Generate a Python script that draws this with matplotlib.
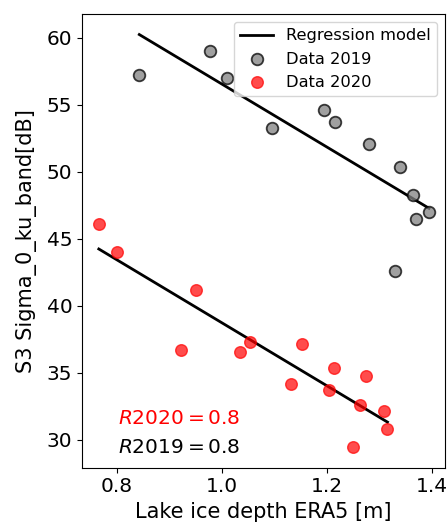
import numpy as np
import matplotlib
matplotlib.use("Agg")
import matplotlib.pyplot as plt

# Данные 2019 года: толщина льда ERA5 [м] и Sigma_0 [дБ]
x_2019 = [0.843, 0.978, 1.010, 1.096, 1.194, 1.215, 1.279, 1.338, 1.363, 1.370, 1.394, 1.329]
y_2019 = [57.2, 59.0, 57.0, 53.3, 54.6, 53.7, 52.1, 50.35, 48.3, 46.5, 47.0, 42.6]

# Данные 2020 года
x_2020 = [0.766, 0.801, 0.951, 0.922, 1.034, 1.053, 1.153, 1.132, 1.213, 1.203,
          1.275, 1.262, 1.309, 1.315, 1.249]
y_2020 = [46.1, 44.0, 41.15, 36.7, 36.55, 37.3, 37.1, 34.15, 35.35, 33.7,
          34.75, 32.55, 32.1, 30.8, 29.45]

# Коэффициенты регрессионной модели (общий наклон, свой сдвиг для каждого года)
slope = -23.55
intercept_2019 = 80.1
intercept_2020 = 62.27
r2_2019 = 0.8
r2_2020 = 0.8

plt.rcParams["font.size"] = 14.5

fig, ax = plt.subplots(figsize=(4.48, 5.29), dpi=100)
fig.subplots_adjust(left=0.183, right=0.994, top=0.974, bottom=0.116)

# Линии модели строим в пределах значений x каждого года
xl_2019 = np.array([min(x_2019), max(x_2019)])
xl_2020 = np.array([min(x_2020), max(x_2020)])
ax.plot(xl_2019, slope * xl_2019 + intercept_2019, color="black", lw=2,
        label="Regression model")
ax.plot(xl_2020, slope * xl_2020 + intercept_2020, color="black", lw=2)

ax.scatter(x_2019, y_2019, s=70, color="gray", edgecolor="black", lw=1.3,
           alpha=0.75, label="Data 2019", zorder=3)
ax.scatter(x_2020, y_2020, s=70, color="red", alpha=0.7,
           label="Data 2020", zorder=3)

ax.text(0.803, 31.6, r"$R2020 = $" + f"${r2_2020}$", color="red",
        fontsize=14.5, va="center")
ax.text(0.803, 29.4, r"$R2019 = $" + f"${r2_2019}$", color="black",
        fontsize=14.5, va="center")

ax.set_xlim(0.734, 1.425)
ax.set_ylim(27.9, 61.8)
ax.set_xticks([0.8, 1.0, 1.2, 1.4])
ax.set_yticks([30, 35, 40, 45, 50, 55, 60])

ax.set_xlabel("Lake ice depth ERA5 [m]", fontsize=15)
ax.set_ylabel("S3 Sigma_0_ku_band[dB]", fontsize=15, labelpad=7)
ax.legend(loc="upper right", fontsize=11.7)

fig.savefig("out.png", dpi=100)
